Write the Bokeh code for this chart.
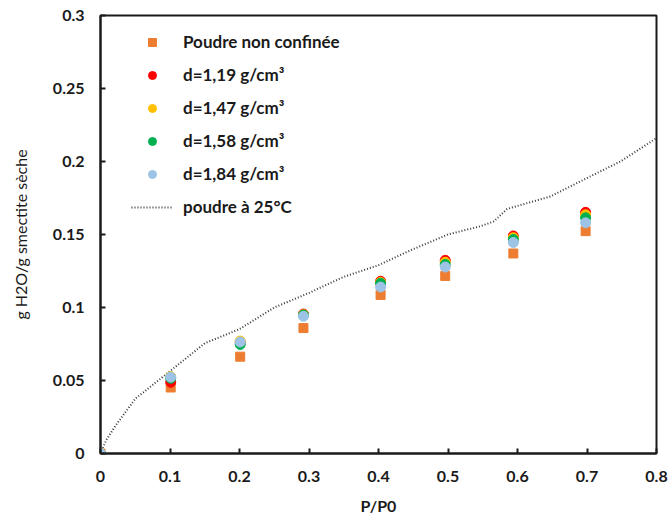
from bokeh.plotting import figure
from bokeh.models import FixedTicker, Legend, LegendItem
from bokeh.embed import file_html
from bokeh.resources import INLINE

# Data
p_p0 = [0, 0.101, 0.201, 0.292, 0.403, 0.496, 0.594, 0.698]
poudre_non_confinee = [0, 0.0452, 0.0663, 0.0859, 0.1086, 0.1216, 0.1370, 0.1523]
d_119 = [0, 0.0488, 0.0760, 0.0955, 0.1180, 0.1323, 0.1490, 0.1652]
d_147 = [0, 0.0526, 0.0770, 0.0950, 0.1172, 0.1310, 0.1478, 0.1635]
d_158 = [0, 0.0515, 0.0747, 0.0948, 0.1166, 0.1295, 0.1466, 0.1614]
d_184 = [0, 0.0523, 0.0764, 0.0940, 0.1140, 0.1277, 0.1445, 0.1580]

curve_x = [0, 0.008, 0.022, 0.05, 0.1, 0.15, 0.2, 0.25, 0.3, 0.35, 0.4, 0.45, 0.5, 0.547, 0.566, 0.585, 0.647, 0.695, 0.748, 0.8]
curve_y = [0, 0.009, 0.0193, 0.0375, 0.0564, 0.0755, 0.0852, 0.100, 0.110, 0.121, 0.129, 0.140, 0.150, 0.1557, 0.159, 0.1675, 0.176, 0.1875, 0.200, 0.216]

x_ticks = [0, 0.1, 0.2, 0.3, 0.4, 0.5, 0.6, 0.7, 0.8]
x_tick_labels = ["0", "0.1", "0.2", "0.3", "0.4", "0.5", "0.6", "0.7", "0.8"]
y_ticks = [0, 0.05, 0.1, 0.15, 0.2, 0.25, 0.3]
y_tick_labels = ["0", "0.05", "0.1", "0.15", "0.2", "0.25", "0.3"]

labels = ["Poudre non confinée", "d=1,19 g/cm³", "d=1,47 g/cm³", "d=1,58 g/cm³", "d=1,84 g/cm³", "poudre à 25°C"]

FONT = "Lato"

p = figure(width=670, height=517, output_backend="svg", toolbar_location=None,
           x_range=(0, 0.8), y_range=(0, 0.3),
           min_border_left=100, min_border_right=14, min_border_top=15, min_border_bottom=61)
p.xgrid.visible = False
p.ygrid.visible = False
p.outline_line_color = "#1a1a1a"
p.outline_line_width = 2

line_r = p.line(curve_x, curve_y, line_color="#3a3a3a", line_width=2, line_dash="1 2")
r0 = p.scatter(p_p0, poudre_non_confinee, marker="square", size=9, fill_color="#ED7D31", line_color="#ED7D31")
r1 = p.scatter(p_p0, d_119, marker="circle", size=10, fill_color="#FF0000", line_color="#FF0000")
r2 = p.scatter(p_p0, d_147, marker="circle", size=10, fill_color="#FFC000", line_color="#FFC000")
r3 = p.scatter(p_p0, d_158, marker="circle", size=10, fill_color="#00B050", line_color="#00B050")
r4 = p.scatter(p_p0, d_184, marker="circle", size=10, fill_color="#9DC3E6", line_color="#9DC3E6")

for ax, ticks, tlabels in ((p.xaxis[0], x_ticks, x_tick_labels), (p.yaxis[0], y_ticks, y_tick_labels)):
    ax.ticker = FixedTicker(ticks=ticks, minor_ticks=[])
    ax.major_label_overrides = {t: l for t, l in zip(ticks, tlabels)}
    ax.axis_line_color = "#1a1a1a"
    ax.axis_line_width = 2
    ax.major_tick_in = 5
    ax.major_tick_out = 0
    ax.major_tick_line_width = 2
    ax.major_tick_line_color = "#1a1a1a"
    ax.minor_tick_line_color = None
    ax.major_label_text_font = FONT
    ax.major_label_text_font_style = "bold"
    ax.major_label_text_font_size = "16px"
    ax.major_label_text_color = "#1a1a1a"
    ax.axis_label_text_font = FONT
    ax.axis_label_text_font_size = "16px"
    ax.axis_label_text_color = "#1a1a1a"

p.xaxis.axis_label = "P/P0"
p.xaxis.axis_label_text_font_style = "bold"
p.xaxis.major_label_standoff = 17
p.xaxis.axis_label_standoff = 11
p.yaxis.axis_label = "g H2O/g smectite sèche"
p.yaxis.axis_label_text_font_style = "normal"
p.yaxis.major_label_standoff = 16
p.yaxis.axis_label_standoff = 20

legend = Legend(items=[
    LegendItem(label=labels[0], renderers=[r0]),
    LegendItem(label=labels[1], renderers=[r1]),
    LegendItem(label=labels[2], renderers=[r2]),
    LegendItem(label=labels[3], renderers=[r3]),
    LegendItem(label=labels[4], renderers=[r4]),
    LegendItem(label=labels[5], renderers=[line_r]),
], location=(31, 236))
legend.border_line_color = None
legend.background_fill_alpha = 0
legend.padding = 0
legend.margin = 0
legend.spacing = 12
legend.glyph_width = 42
legend.glyph_height = 20
legend.label_height = 20
legend.label_standoff = 10
legend.label_text_font = FONT
legend.label_text_font_style = "bold"
legend.label_text_font_size = "17px"
legend.label_text_color = "#1a1a1a"
p.add_layout(legend, "center")

open("out.html", "w").write(file_html(p, INLINE))
